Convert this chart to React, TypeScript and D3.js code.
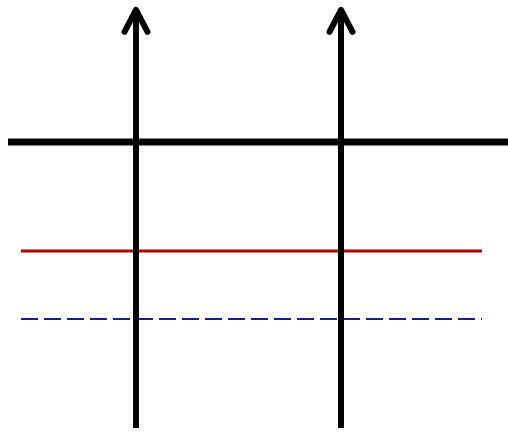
import React, { useEffect, useRef } from 'react';
import * as d3 from 'd3';

// positions in chart units (0-100 on both axes)
const arrowXs = [25.6, 66.6];
const arrowTop = 0.2;
const arrowBottom = 98.8;

const baseline = { y: 31.5, x0: 0, x1: 100 };

const levelNames = ['red', 'blue'];
const levelYs = [57.2, 73.2];
const levelColors = ['#b00000', '#1a1aa0'];
const levelDashes = ['none', '17,6'];
const levelWidths = [3, 2];
const levelSpan = [2.6, 94.8];

const App: React.FC = () => {
  const ref = useRef<SVGSVGElement | null>(null);

  useEffect(() => {
    const width = 508;
    const height = 433;
    const margin = 8;

    document.body.style.margin = '0';
    document.body.style.overflow = 'hidden';

    const svg = d3.select(ref.current)
      .attr('width', width)
      .attr('height', height)
      .style('display', 'block')
      .style('background', '#ffffff');

    svg.selectAll('*').remove();

    const x = d3.scaleLinear().domain([0, 100]).range([margin, width]);
    const y = d3.scaleLinear().domain([0, 100]).range([margin, height]);

    // thick black horizontal line
    svg.append('line')
      .attr('x1', x(baseline.x0))
      .attr('x2', x(baseline.x1))
      .attr('y1', y(baseline.y))
      .attr('y2', y(baseline.y))
      .attr('stroke', '#000')
      .attr('stroke-width', 7);

    // red / blue levels
    svg.selectAll('line.level')
      .data(levelNames)
      .join('line')
        .attr('class', 'level')
        .attr('x1', x(levelSpan[0]))
        .attr('x2', x(levelSpan[1]))
        .attr('y1', (_, i) => y(levelYs[i]))
        .attr('y2', (_, i) => y(levelYs[i]))
        .attr('stroke', (_, i) => levelColors[i])
        .attr('stroke-width', (_, i) => levelWidths[i])
        .attr('stroke-dasharray', (_, i) => levelDashes[i]);

    // vertical arrows
    const arrow = svg.selectAll('g.arrow')
      .data(arrowXs)
      .join('g')
        .attr('class', 'arrow');

    arrow.append('line')
      .attr('x1', d => x(d))
      .attr('x2', d => x(d))
      .attr('y1', y(arrowBottom))
      .attr('y2', y(arrowTop) + 2)
      .attr('stroke', '#000')
      .attr('stroke-width', 6);

    const line = d3.line<[number, number]>();
    arrow.append('path')
      .attr('d', d => {
        const cx = x(d);
        const top = y(arrowTop) + 1;
        return line([[cx - 11.5, top + 22], [cx, top], [cx + 11.5, top + 22]]);
      })
      .attr('fill', 'none')
      .attr('stroke', '#000')
      .attr('stroke-width', 6)
      .attr('stroke-linecap', 'round')
      .attr('stroke-linejoin', 'round');
  }, []);

  return <svg ref={ref}></svg>;
};

export default App;
